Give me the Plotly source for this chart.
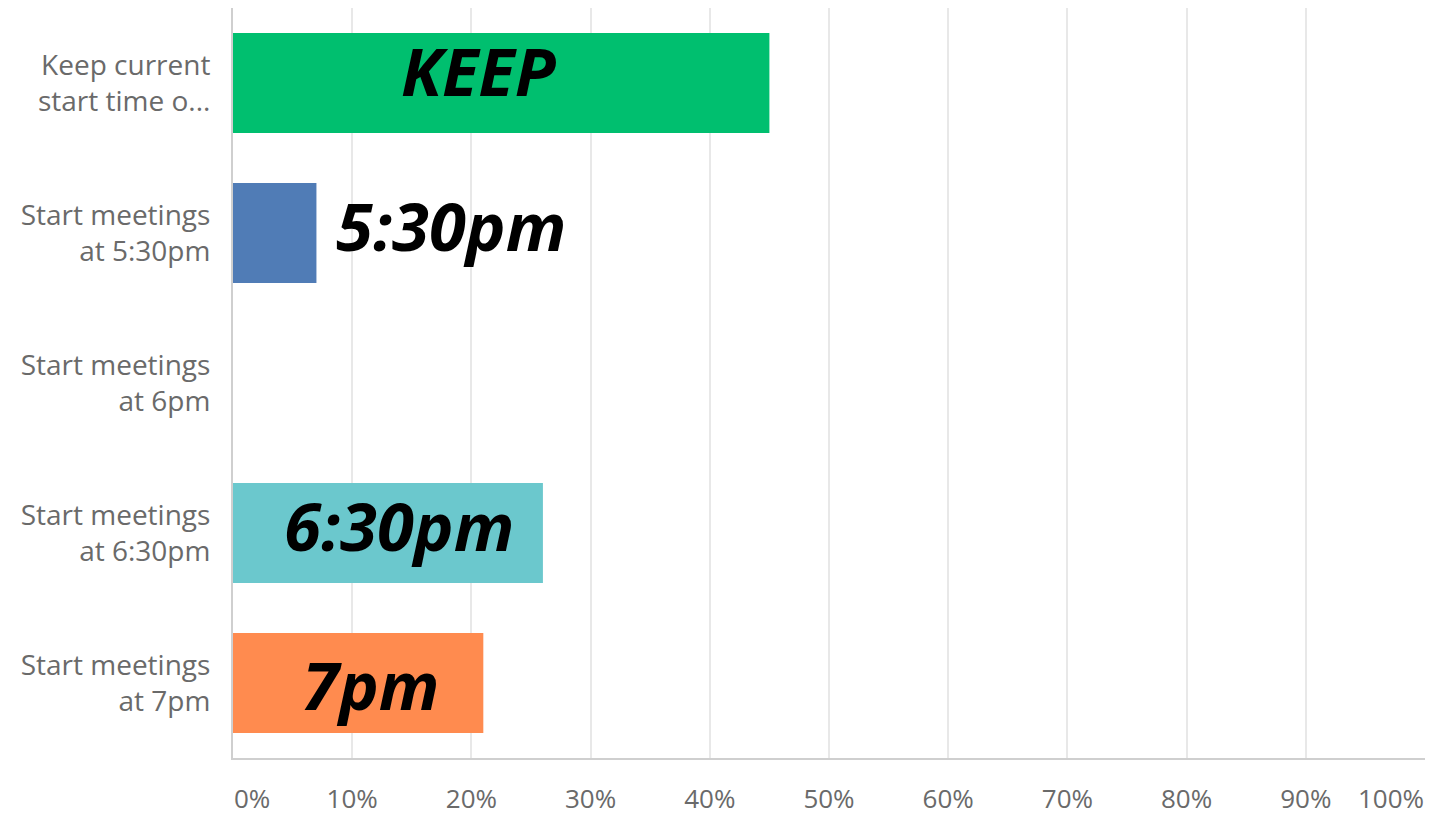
import plotly.graph_objects as go

categories = [
    "Keep current<br>start time o...",
    "Start meetings<br>at 5:30pm",
    "Start meetings<br>at 6pm",
    "Start meetings<br>at 6:30pm",
    "Start meetings<br>at 7pm",
]
values = [45, 7, 0, 26, 21]
bar_colors = ["#00BF6F", "#507CB6", "#F9BE00", "#6BC8CD", "#FF8B4F"]
overlay_labels = ["KEEP", "5:30pm", "", "6:30pm", "7pm"]
tick_vals = [0, 10, 20, 30, 40, 50, 60, 70, 80, 90, 100]
tick_text = ["0%", "10%", "20%", "30%", "40%", "50%", "60%", "70%", "80%", "90%", "100%"]

# placement of the big overlay labels (x in axis %, vertical shift in px)
label_x = [20.6, 18.3, None, 13.9, 11.5]
label_shift = [13, 8, 0, 8, -1]

fig = go.Figure()
fig.add_trace(go.Bar(
    x=values, y=categories, orientation="h",
    marker=dict(color=bar_colors, line=dict(width=0)),
    width=0.667, hoverinfo="skip",
))

annotations = []
for lab, lx, sh, cat in zip(overlay_labels, label_x, label_shift, categories):
    if not lab:
        continue
    annotations.append(dict(
        x=lx, y=cat, xref="x", yref="y", text=lab, showarrow=False,
        xanchor="center", yanchor="middle", yshift=sh,
        font=dict(family="Open Sans", size=67, color="#000000", weight="bold", style="italic"),
    ))

xtick_font = dict(family="Open Sans", size=26, color="#6a6a6a")
ytick_font = dict(family="Open Sans", size=28, color="#6a6a6a")
# edge tick labels are kept inside the plot width
annotations.append(dict(x=tick_vals[0], y=0, xref="x", yref="paper", text=tick_text[0],
                        showarrow=False, xanchor="left", yanchor="top", yshift=-21,
                        borderpad=0, font=xtick_font))
annotations.append(dict(x=tick_vals[-1], y=0, xref="x", yref="paper", text=tick_text[-1],
                        showarrow=False, xanchor="right", yanchor="top", yshift=-21,
                        borderpad=0, font=xtick_font))

mid_text = [""] + tick_text[1:-1] + [""]

fig.update_layout(
    width=1442, height=807,
    margin=dict(l=225, r=25, t=0, b=57, autoexpand=False),
    paper_bgcolor="white", plot_bgcolor="white",
    showlegend=False,
    annotations=annotations,
    xaxis=dict(
        range=[0, 100], tickvals=tick_vals, ticktext=mid_text,
        showgrid=True, gridcolor="#e8e8e8", gridwidth=2,
        showline=True, linecolor="#cfcfcf", linewidth=2,
        ticks="outside", ticklen=17, tickcolor="rgba(0,0,0,0)",
        tickfont=xtick_font, zeroline=False, fixedrange=True, automargin=False,
    ),
    yaxis=dict(
        categoryorder="array", categoryarray=categories,
        autorange="reversed",
        showgrid=False, showline=True, linecolor="#cfcfcf", linewidth=2,
        ticks="outside", ticklen=15, tickcolor="rgba(0,0,0,0)",
        tickfont=ytick_font,
        zeroline=False, fixedrange=True, automargin=False,
    ),
    bargap=0.333,
)

fig.write_html("out.html")
